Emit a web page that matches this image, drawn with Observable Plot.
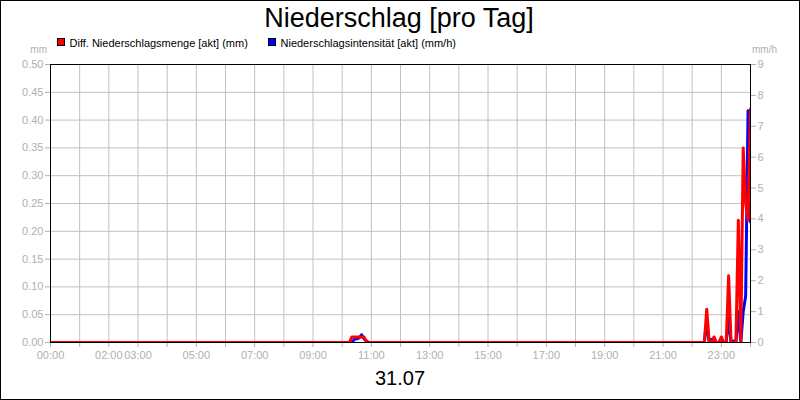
<!DOCTYPE html>
<html><head><meta charset="utf-8">
<script src="https://cdn.jsdelivr.net/npm/d3@7"></script>
<script src="https://cdn.jsdelivr.net/npm/@observablehq/plot@0.6"></script>
<style>
body{margin:0;background:#fff;}
#wrap{position:relative;width:800px;height:400px;overflow:hidden;font-family:"Liberation Sans",Arial,sans-serif;}
#chart{position:absolute;left:0;top:0;}
#over{position:absolute;left:0;top:0;pointer-events:none;}
#border{position:absolute;left:0;top:0;width:800px;height:400px;box-sizing:border-box;border:1px solid #000;pointer-events:none;}
</style></head><body>
<div id="wrap"><div id="chart"></div><svg id="over" width="800" height="400"></svg><div id="border"></div></div>
<script>
// ---- data ----
const title = "Niederschlag [pro Tag]";
const dateLabel = "31.07";
const seriesNames = ["Diff. Niederschlagsmenge [akt] (mm)", "Niederschlagsintensität [akt] (mm/h)"];
const seriesColors = ["#ff0000", "#0000ff"];
const unitLeft = "mm", unitRight = "mm/h";

const timesRed = ["00:00","10:15","10:20","10:25","10:30","10:35","10:40","10:45","10:50",
  "22:25","22:30","22:35","22:40","22:45","22:50","22:55","23:00","23:05","23:10","23:15",
  "23:20","23:25","23:30","23:35","23:40","23:45","23:50","23:55","24:00"];
const redMm = [0,0,0.01,0.01,0.01,0.01,0.01,0.01,0,
  0,0.06,0,0,0.01,0,0,0.01,0,0,0.12,
  0,0,0,0.22,0,0.35,0.25,0.22,0.42];

const timesBlue = ["00:00","10:20","10:25","10:30","10:35","10:40","10:45","10:50","10:55",
  "22:25","22:30","22:35","22:40","22:45","22:55","23:00","23:05","23:10","23:15",
  "23:20","23:25","23:30","23:35","23:40","23:45","23:50","23:55","24:00"];
const blueMmh = [0,0,0.1,0.12,0.15,0.25,0.12,0.05,0,
  0,0.7,0,0.1,0,0,0.1,0,0,0.8,
  0,0.05,0,1.0,0,1.0,1.5,7.5,3.9];

const xTickLabels = ["00:00","02:00","03:00","05:00","07:00","09:00","11:00","13:00","15:00","17:00","19:00","21:00","23:00"];
const leftTickValues = [0,0.05,0.10,0.15,0.20,0.25,0.30,0.35,0.40,0.45,0.50];
const rightTickValues = [0,1,2,3,4,5,6,7,8,9];
const leftMax = 0.5, rightMax = 9;

// ---- build ----
const toH = s => { const [h, m] = s.split(":").map(Number); return h + m / 60; };
const k = leftMax / rightMax;
const red = timesRed.map((t, i) => ({x: toH(t), y: redMm[i]}));
const blue = timesBlue.map((t, i) => ({x: toH(t), y: blueMmh[i] * k}));
const hours = d3.range(0, 25);
const labelSet = new Set(xTickLabels);
const fmtH = h => String(h).padStart(2, "0") + ":00";
const gray = "#b0b0b0";

const chart = Plot.plot({
  width: 800, height: 400,
  marginLeft: 50, marginRight: 50, marginTop: 64, marginBottom: 58,
  style: {fontFamily: "Liberation Sans, Arial, sans-serif", fontSize: "11px", background: "transparent"},
  x: {domain: [0, 24]},
  y: {domain: [0, leftMax]},
  marks: [
    Plot.gridX(hours, {stroke: "#c0c0c0", strokeOpacity: 1}),
    Plot.gridY(leftTickValues, {stroke: "#c0c0c0", strokeOpacity: 1}),
    Plot.axisX(hours, {tickSize: 5, tickPadding: 4, tickFormat: h => labelSet.has(fmtH(h)) ? fmtH(h) : "", color: gray, label: null}),
    Plot.axisY(leftTickValues, {anchor: "left", tickSize: 5, tickPadding: 2, tickFormat: d => d.toFixed(2), color: gray, label: null}),
    Plot.axisY(rightTickValues.map(v => v * k), {anchor: "right", tickSize: 5, tickPadding: 2, tickFormat: d => String(Math.round(d / k)), color: gray, label: null}),
    Plot.line(blue, {x: "x", y: "y", stroke: seriesColors[1], strokeWidth: 3, clip: true}),
    Plot.line(red, {x: "x", y: "y", stroke: seriesColors[0], strokeWidth: 3, clip: true}),
    Plot.frame({stroke: "#000"})
  ]
});
document.getElementById("chart").appendChild(chart);

// ---- titles, legend, units ----
const o = d3.select("#over").style("font-family", "Liberation Sans, Arial, sans-serif");
o.append("text").attr("x", 399).attr("y", 27).attr("text-anchor", "middle").attr("font-size", 27).attr("fill", "#000").text(title);
o.append("text").attr("x", 400).attr("y", 385).attr("text-anchor", "middle").attr("font-size", 20).attr("fill", "#000").text(dateLabel);
const legX = [57.5, 268.5];
seriesNames.forEach((n, i) => {
  o.append("rect").attr("x", legX[i]).attr("y", 38.5).attr("width", 7).attr("height", 7).attr("fill", seriesColors[i]).attr("stroke", "#000");
  o.append("text").attr("x", legX[i] + 12).attr("y", 46.5).attr("font-size", 11).attr("fill", "#000").text(n);
});
o.append("text").attr("x", 47).attr("y", 53).attr("text-anchor", "end").attr("font-size", 10).attr("fill", gray).text(unitLeft);
o.append("text").attr("x", 752).attr("y", 53).attr("font-size", 10).attr("fill", gray).text(unitRight);
</script>
</body></html>
